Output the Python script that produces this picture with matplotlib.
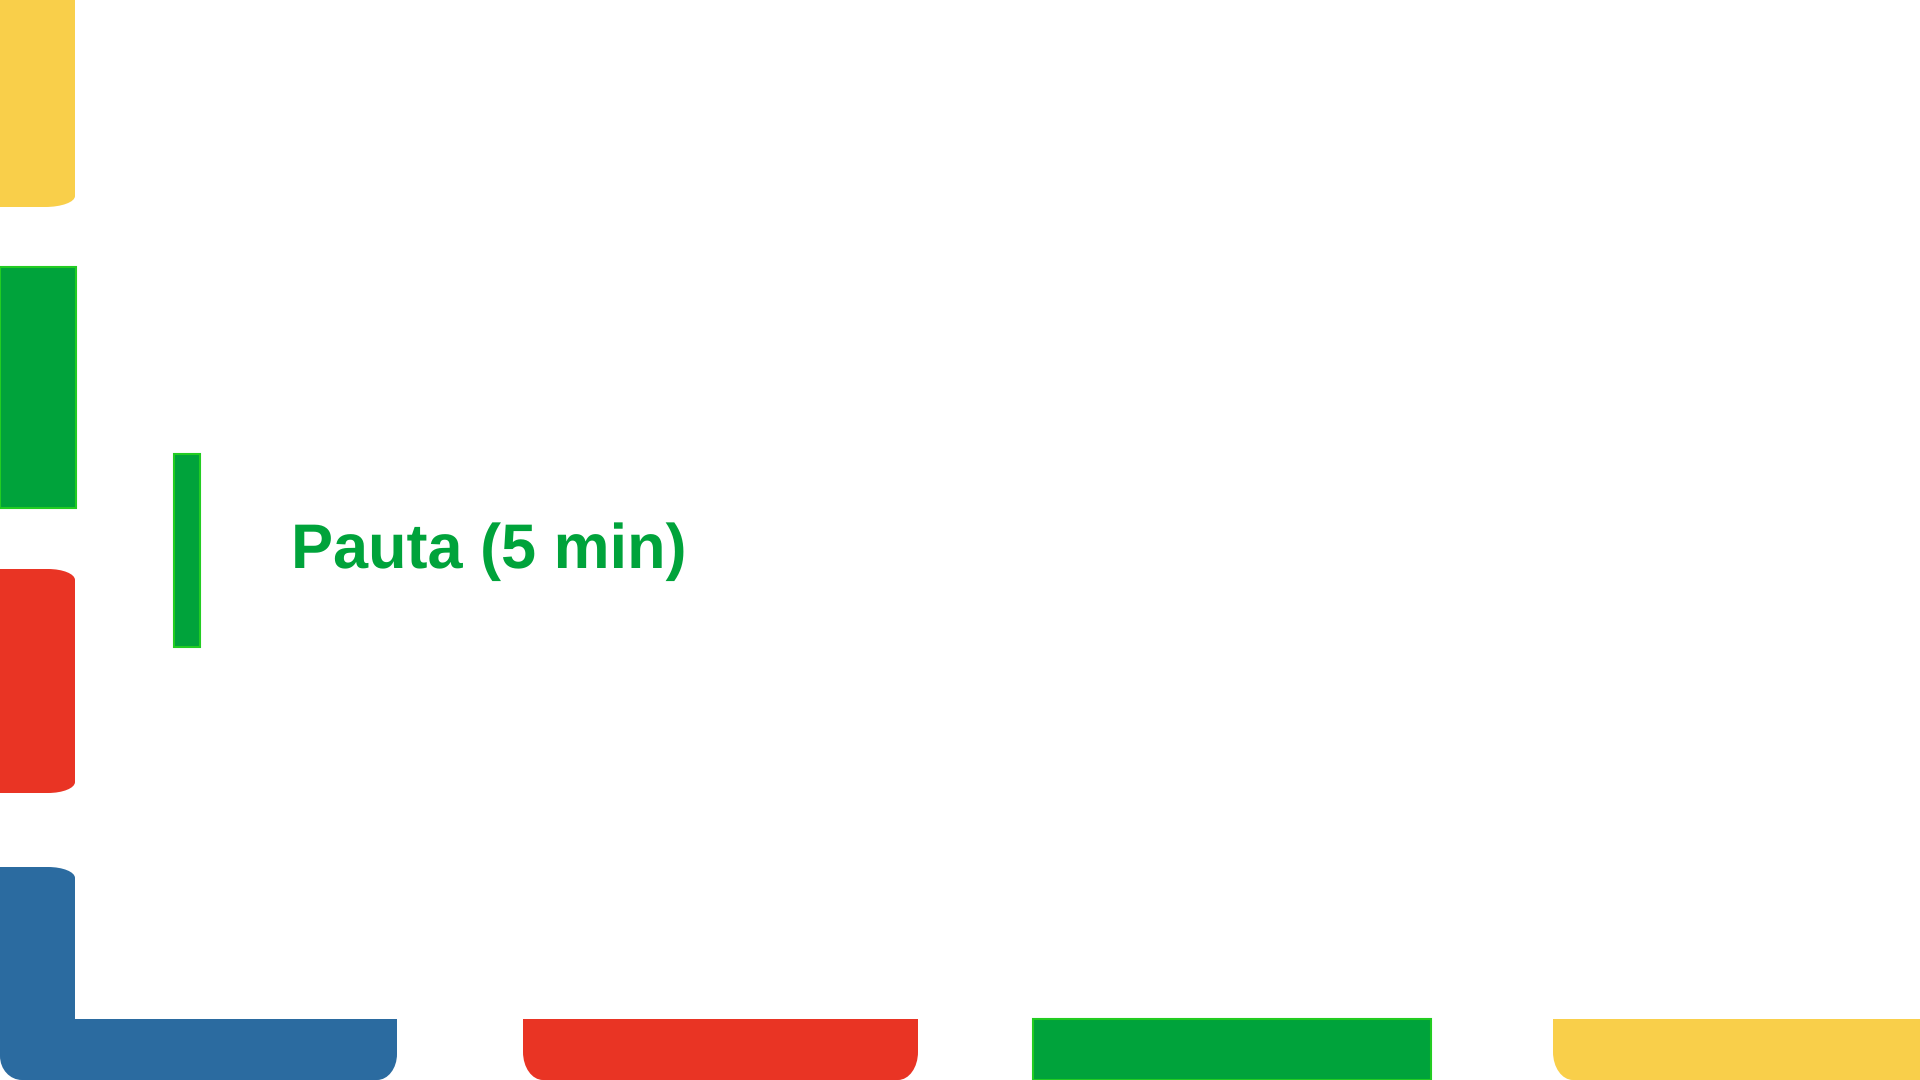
import numpy as np
import matplotlib.pyplot as plt
from matplotlib.path import Path
from matplotlib.patches import PathPatch

plt.rcParams['text.hinting'] = 'no_hinting'
plt.rcParams['text.hinting_factor'] = 1

# slide pieces, pixel coords of a 1920x1080 slide (y down)
title = "Pauta (5 min)"
title_xy = (291, 568)

yellow = "#F9CF4A"
green = "#00A33B"
red = "#E93424"
blue = "#2B6BA0"
edge_green = "#22CC22"

# corner lists: (x, y, rx, ry)
yellow_top = [(0, 0, 0, 0), (75, 0, 0, 0), (75, 207, 30, 11), (0, 207, 0, 0)]
green_left = [(0, 267, 0, 0), (76, 267, 0, 0), (76, 508, 0, 0), (0, 508, 0, 0)]
red_left = [(0, 569, 0, 0), (75, 569, 27, 11), (75, 793, 27, 11), (0, 793, 0, 0)]
blue_l = [(0, 867, 0, 0), (75, 867, 27, 11), (75, 1019, 0, 0), (397, 1019, 0, 0),
          (397, 1080, 20, 26), (0, 1080, 22, 24)]
red_bottom = [(523, 1019, 0, 0), (918, 1019, 0, 0), (918, 1080, 20, 28), (523, 1080, 20, 28)]
green_bottom = [(1033, 1019, 0, 0), (1431, 1019, 0, 0), (1431, 1080, 0, 0), (1033, 1080, 0, 0)]
yellow_bottom = [(1553, 1019, 0, 0), (1920, 1019, 0, 0), (1920, 1080, 0, 0), (1553, 1080, 20, 28)]
accent_bar = [(174, 454, 0, 0), (200, 454, 0, 0), (200, 647, 0, 0), (174, 647, 0, 0)]

shapes = [
    (yellow_top, yellow, None),
    (green_left, green, edge_green),
    (red_left, red, None),
    (blue_l, blue, None),
    (red_bottom, red, None),
    (green_bottom, green, edge_green),
    (yellow_bottom, yellow, None),
    (accent_bar, green, edge_green),
]


def rounded_path(corners):
    k = 0.5523
    verts, codes = [], []
    n = len(corners)
    for i in range(n):
        x, y, rx, ry = corners[i]
        p = np.array([x, y], float)
        if rx == 0:
            verts.append(p)
            codes.append(Path.LINETO)
            continue
        prev = np.array(corners[i - 1][:2], float)
        nxt = np.array(corners[(i + 1) % n][:2], float)
        # horizontal edge takes rx, vertical edge ry
        ra = rx if prev[1] == p[1] else ry
        rb = rx if nxt[1] == p[1] else ry
        a = p + (prev - p) / np.linalg.norm(prev - p) * ra
        b = p + (nxt - p) / np.linalg.norm(nxt - p) * rb
        verts += [a, a + (p - a) * k, b + (p - b) * k, b]
        codes += [Path.LINETO, Path.CURVE4, Path.CURVE4, Path.CURVE4]
    codes[0] = Path.MOVETO
    verts.append(verts[0])
    codes.append(Path.CLOSEPOLY)
    return Path(verts, codes)


fig = plt.figure(figsize=(19.2, 10.8), dpi=100)
ax = fig.add_axes([0, 0, 1, 1])
ax.set_xlim(0, 1920)
ax.set_ylim(1080, 0)
ax.axis('off')

for corners, face, edge in shapes:
    if edge:
        patch = PathPatch(rounded_path(corners), facecolor=face, edgecolor=edge, lw=1.5)
    else:
        patch = PathPatch(rounded_path(corners), facecolor=face, edgecolor='none')
    ax.add_patch(patch)

ax.text(title_xy[0], title_xy[1], title, color=green, fontsize=45,
        fontweight='bold', family=['Liberation Sans', 'DejaVu Sans'],
        ha='left', va='baseline')

fig.savefig('out.png', dpi=100, facecolor='white')
